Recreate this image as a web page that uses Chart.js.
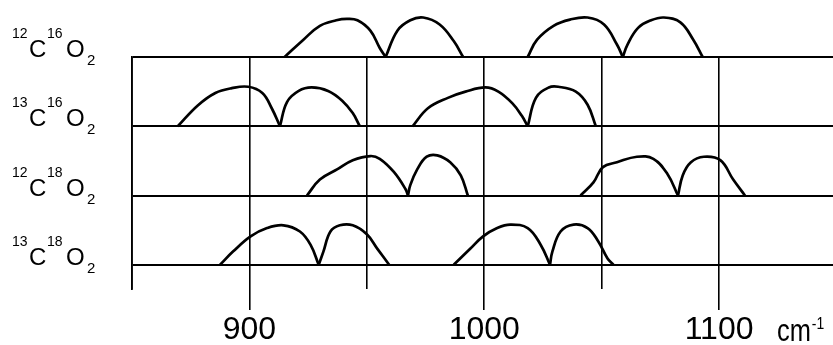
<!DOCTYPE html>
<html>
<head>
<meta charset="utf-8">
<script src="https://cdn.jsdelivr.net/npm/chart.js@4"></script>
<style>
  html, body { margin: 0; padding: 0; background: #fff; }
  canvas { display: block; }
</style>
</head>
<body>
<canvas id="bandChart" width="833" height="345"></canvas>
<script>
// Row labels (isotopes), mass numbers for C and O
const rowMassC = ["12", "13", "12", "13"];
const rowMassO = ["16", "16", "18", "18"];
const rowOffsets = [30, 20, 10, 0];

// Tick values on the wavenumber axis
const xGridValues = [850, 900, 950, 1000, 1050, 1100];
const xLabelValues = [900, 1000, 1100];

// Band envelopes: [wavenumber, height above row baseline]
const c12o16 = [
    [[915, 0], [923, 2.5], [930, 4.5], [937, 5.3], [941.5, 5.5], [946, 5.3], [951.5, 3.8], [955.5, 1.3], [958, 0]],
    [[958, 0], [963, 3.8], [968.5, 5.3], [974, 5.7], [981, 4.7], [987, 2.3], [991, 0]],
    [[1018.5, 0], [1022.5, 2.5], [1029.5, 4.5], [1036.5, 5.4], [1044, 5.7], [1051, 4.7], [1056.5, 1.8], [1059, 0]],
    [[1059, 0], [1061, 1.8], [1065.5, 4.2], [1071, 5.3], [1076.5, 5.7], [1083.5, 5.0], [1089, 2.5], [1093, 0]],
];
const c13o16 = [
    [[869.5, 0], [878, 3.0], [885.5, 4.8], [892.5, 5.5], [899.5, 5.7], [905.5, 4.8], [909.5, 2.6], [913, 0]],
    [[913, 0], [916, 3.5], [921, 5.1], [926.5, 5.6], [933.5, 5.1], [939.5, 3.7], [944, 1.9], [947, 0]],
    [[969.5, 0], [976, 2.6], [984.5, 4.1], [992, 5.0], [1000.5, 5.6], [1006, 5.0], [1012, 3.3], [1016, 1.5], [1018.5, 0]],
    [[1018.5, 0], [1022, 4.1], [1027.5, 5.6], [1031.5, 5.7], [1039, 5.0], [1044, 3.1], [1047.5, 0]],
];
const c12o18 = [
    [[924.5, 0], [930, 2.3], [937.5, 3.8], [944, 5.1], [951.5, 5.7], [955.5, 5.3], [961.5, 3.4], [966.5, 0.9], [967.5, 0]],
    [[967.5, 0], [968.5, 1.5], [971.5, 3.8], [975.5, 5.6], [980, 5.8], [985.5, 4.8], [990, 2.9], [993, 0]],
    [[1041, 0], [1046.5, 1.9], [1050.5, 4.1], [1056.5, 4.8], [1065, 5.6], [1072, 5.3], [1078, 3.1], [1082.5, 0]],
    [[1082.5, 0], [1084.5, 2.9], [1088, 4.8], [1093.5, 5.6], [1100.5, 5.1], [1106, 2.3], [1111, 0]],
];
const c13o18 = [
    [[887.5, 0], [893, 1.9], [900.5, 4.1], [907.5, 5.3], [914.5, 5.7], [921.5, 4.8], [926, 2.9], [929.5, 0]],
    [[929.5, 0], [931.5, 1.9], [934.5, 4.8], [938.5, 5.7], [944, 5.7], [950, 4.4], [954.5, 2.3], [959.5, 0]],
    [[987, 0], [994, 2.3], [999.5, 4.1], [1005.5, 5.3], [1011, 5.8], [1018.5, 5.3], [1024, 2.9], [1028, 0]],
    [[1028, 0], [1029, 1.9], [1032.5, 4.8], [1038, 5.8], [1044, 5.3], [1048.5, 3.4], [1052.5, 0.9], [1055, 0]],
];
const rows = [c12o16, c13o16, c12o18, c13o18];

const FONT = "'Liberation Sans', Arial, sans-serif";

// one dataset per lobe, shifted onto its row baseline
const datasets = [];
rows.forEach((humps, i) => {
    humps.forEach((hump) => {
        datasets.push({
            data: hump.map(([x, h]) => ({ x: x, y: h + rowOffsets[i] })),
            borderColor: "#000",
            borderWidth: 2.7,
            pointRadius: 0,
            fill: false,
            tension: 0.4,
            clip: false,
        });
    });
});

// isotope names on the left + unit after the axis
const labelPlugin = {
    id: "rowLabels",
    afterDraw(chart) {
        const ctx = chart.ctx;
        const yScale = chart.scales.y;
        const xScale = chart.scales.x;
        ctx.save();
        ctx.fillStyle = "#000";
        ctx.textBaseline = "alphabetic";
        ctx.textAlign = "left";
        rowOffsets.forEach((off, i) => {
            const base = yScale.getPixelForValue(off);
            ctx.font = "14px " + FONT;
            ctx.fillText(rowMassC[i], 12, base - 19);
            ctx.font = "24px " + FONT;
            ctx.fillText("C", 29, base);
            ctx.font = "14px " + FONT;
            ctx.fillText(rowMassO[i], 47, base - 19);
            ctx.font = "24px " + FONT;
            ctx.fillText("O", 66, base);
            ctx.font = "15px " + FONT;
            ctx.fillText("2", 87, base + 8);
        });
        // "cm^-1" drawn slightly condensed like the original lettering
        const unitX = xScale.getPixelForValue(1100) + 58;
        ctx.translate(unitX, 0);
        ctx.scale(0.82, 1);
        ctx.font = "31px " + FONT;
        ctx.fillText("cm", 0, 341);
        const w = ctx.measureText("cm").width;
        ctx.font = "17px " + FONT;
        ctx.fillText("-1", w + 1, 329);
        ctx.restore();
    },
};

new Chart(document.getElementById("bandChart"), {
    type: "line",
    data: { datasets: datasets },
    options: {
        responsive: false,
        animation: false,
        layout: { padding: { top: 57, left: 132, right: 0, bottom: -5 } },
        plugins: {
            legend: { display: false },
            tooltip: { enabled: false },
        },
        scales: {
            x: {
                type: "linear",
                min: 850,
                max: 1148.5,
                afterBuildTicks: (axis) => {
                    axis.ticks = xGridValues.map((v) => ({ value: v }));
                },
                border: { display: false },
                grid: {
                    color: "#000",
                    lineWidth: 1.6,
                    drawTicks: true,
                    tickLength: 21,
                    tickWidth: 1.6,
                    tickColor: (c) => (c.tick && xLabelValues.includes(c.tick.value) ? "#000" : "rgba(0,0,0,0)"),
                },
                ticks: {
                    autoSkip: false,
                    maxRotation: 0,
                    padding: 4,
                    color: "#000",
                    font: { family: FONT, size: 32, lineHeight: 1 },
                    callback: (v) => (xLabelValues.includes(v) ? String(v) : ""),
                },
            },
            y: {
                type: "linear",
                min: -3.5,
                max: 30,
                afterBuildTicks: (axis) => {
                    axis.ticks = rowOffsets.map((v) => ({ value: v }));
                },
                border: { display: true, color: "#000", width: 1.8 },
                grid: { color: "#000", lineWidth: 2, drawTicks: false },
                ticks: { display: false },
            },
        },
    },
    plugins: [labelPlugin],
});
</script>
</body>
</html>
